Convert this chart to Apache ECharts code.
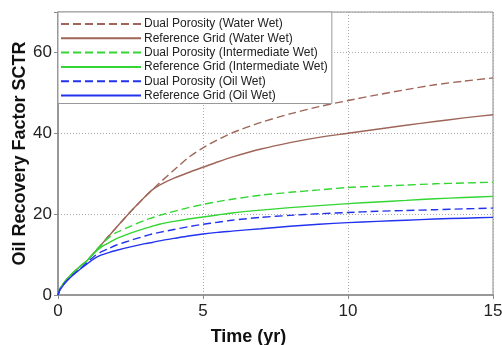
<!DOCTYPE html>
<html>
<head>
<meta charset="utf-8">
<script src="https://cdn.jsdelivr.net/npm/echarts@6/dist/echarts.min.js"></script>
<style>html,body{margin:0;padding:0;background:#fff;}#c{width:502px;height:345px;}</style>
</head>
<body>
<div id="c"></div>
<script>
var times = [0, 0.05, 0.1, 0.25, 0.5, 0.75, 1, 1.25, 1.5, 1.75, 2, 2.5, 3, 3.25, 3.5, 4, 4.5, 5, 5.5, 6, 7, 8, 9, 10, 11, 12, 13, 14, 15];
var dpWater  = [0, 1.2, 1.9, 3.4, 5.4, 7.0, 8.5, 10.5, 12.5, 14.6, 16.6, 20.6, 24.3, 26.0, 27.7, 30.9, 34.0, 36.4, 38.4, 40.1, 42.7, 44.8, 46.6, 48.1, 49.5, 50.8, 52.0, 52.9, 53.7];
var rgWater  = [0, 1.2, 1.9, 3.4, 5.4, 7.0, 8.5, 10.5, 12.5, 14.6, 16.6, 20.6, 24.3, 26.0, 27.2, 28.9, 30.3, 31.6, 32.9, 34.1, 36.1, 37.7, 39.0, 40.0, 41.0, 42.0, 42.9, 43.8, 44.6];
var dpInter  = [0, 1.2, 1.9, 3.4, 5.4, 7.0, 8.5, 10.5, 12.5, 14.2, 15.4, 17.0, 18.5, 19.1, 19.7, 20.7, 21.6, 22.4, 23.1, 23.7, 24.7, 25.4, 26.0, 26.6, 26.9, 27.2, 27.5, 27.7, 27.9];
var rgInter  = [0, 1.2, 1.9, 3.4, 5.4, 7.0, 8.5, 10.4, 11.9, 12.9, 13.9, 15.3, 16.5, 17.0, 17.5, 18.2, 18.8, 19.3, 19.8, 20.3, 21.0, 21.6, 22.1, 22.6, 23.0, 23.4, 23.8, 24.1, 24.4];
var dpOil    = [0, 1.1, 1.7, 3.1, 4.9, 6.4, 8.0, 9.6, 10.7, 11.5, 12.3, 13.5, 14.6, 15.1, 15.5, 16.2, 16.9, 17.5, 18.0, 18.5, 19.2, 19.7, 20.1, 20.4, 20.7, 20.9, 21.1, 21.3, 21.5];
var rgOil    = [0, 1.0, 1.6, 3.0, 4.8, 6.3, 7.7, 9.0, 9.9, 10.5, 11.0, 11.9, 12.7, 13.0, 13.4, 14.0, 14.6, 15.1, 15.5, 15.8, 16.4, 17.0, 17.5, 17.9, 18.2, 18.5, 18.8, 19.0, 19.2];
var seriesNames = ['Dual Porosity (Water Wet)', 'Reference Grid (Water Wet)', 'Dual Porosity (Intermediate Wet)', 'Reference Grid (Intermediate Wet)', 'Dual Porosity (Oil Wet)', 'Reference Grid (Oil Wet)'];
var xTicks = [0, 5, 10, 15];
var yTicks = [0, 20, 40, 60];

var allValues = [dpWater, rgWater, dpInter, rgInter, dpOil, rgOil];
var colors = ['#9e6558', '#9e6558', '#33d633', '#33d633', '#2233ee', '#2233ee'];
var dashed = [true, false, true, false, true, false];

function pairs(vals) { return times.map(function (t, i) { return [t, vals[i]]; }); }

var series = allValues.map(function (vals, i) {
  return {
    name: seriesNames[i],
    type: 'line',
    data: pairs(vals),
    smooth: 0.25,
    symbol: 'none',
    lineStyle: { color: colors[i], width: 1.4, type: dashed[i] ? [8, 4] : 'solid' },
    itemStyle: { color: colors[i] },
    z: 3
  };
});

var chart = echarts.init(document.getElementById('c'), null, { renderer: 'canvas' });
chart.setOption({
  animation: false,
  backgroundColor: '#ffffff',
  textStyle: { fontFamily: 'Liberation Sans, Arial, sans-serif' },
  grid: { left: 58, right: 9, top: 12, bottom: 50, show: true, borderColor: '#8a8a8a', borderWidth: 1, backgroundColor: 'transparent', containLabel: false, outerBoundsMode: 'none' },
  legend: {
    orient: 'vertical',
    left: 58, top: 12,
    padding: [5, 4, 1, 2],
    itemWidth: 80, itemHeight: 10, itemGap: 0.3,
    backgroundColor: '#ffffff',
    borderColor: '#999999', borderWidth: 1, borderRadius: 0,
    itemStyle: { color: 'transparent', borderColor: 'transparent', borderWidth: 0, opacity: 0 },
    textStyle: { fontSize: 12, color: '#222', lineHeight: 14, padding: [0, 0, 0, -2], fontFamily: 'Liberation Sans, Arial, sans-serif' },
    data: seriesNames,
    z: 10
  },
  xAxis: {
    type: 'value', min: 0, max: 15, interval: 5,
    name: 'Time (yr)', nameLocation: 'middle', nameGap: 33, nameMoveOverlap: false,
    nameTextStyle: { fontSize: 18, fontWeight: 'bold', color: '#111', padding: [0, 54, 0, 0] },
    axisLine: { show: true, lineStyle: { color: '#8a8a8a', width: 1.5 } },
    axisTick: { show: true, length: 4, inside: false, lineStyle: { color: '#8a8a8a' } },
    axisLabel: { fontSize: 17, color: '#222', margin: 8, hideOverlap: false, formatter: function (v) { return xTicks.indexOf(v) >= 0 ? String(v) : ''; } },
    splitLine: { show: true, lineStyle: { color: '#a8a8a8', type: [1, 2], width: 1 } }
  },
  yAxis: {
    type: 'value', min: 0, max: 70, interval: 20,
    name: 'Oil Recovery Factor SCTR', nameLocation: 'middle', nameGap: 29, nameMoveOverlap: false,
    nameTextStyle: { fontSize: 18, fontWeight: 'bold', color: '#111' },
    axisLine: { show: true, lineStyle: { color: '#8a8a8a', width: 1.5 } },
    axisTick: { show: true, length: 4, inside: false, lineStyle: { color: '#8a8a8a' } },
    axisLabel: { fontSize: 17, color: '#222', margin: 6, formatter: function (v) { return yTicks.indexOf(v) >= 0 ? String(v) : ''; } },
    splitLine: { show: true, lineStyle: { color: '#a8a8a8', type: [1, 2], width: 1 } }
  },
  series: series
});
</script>
</body>
</html>
